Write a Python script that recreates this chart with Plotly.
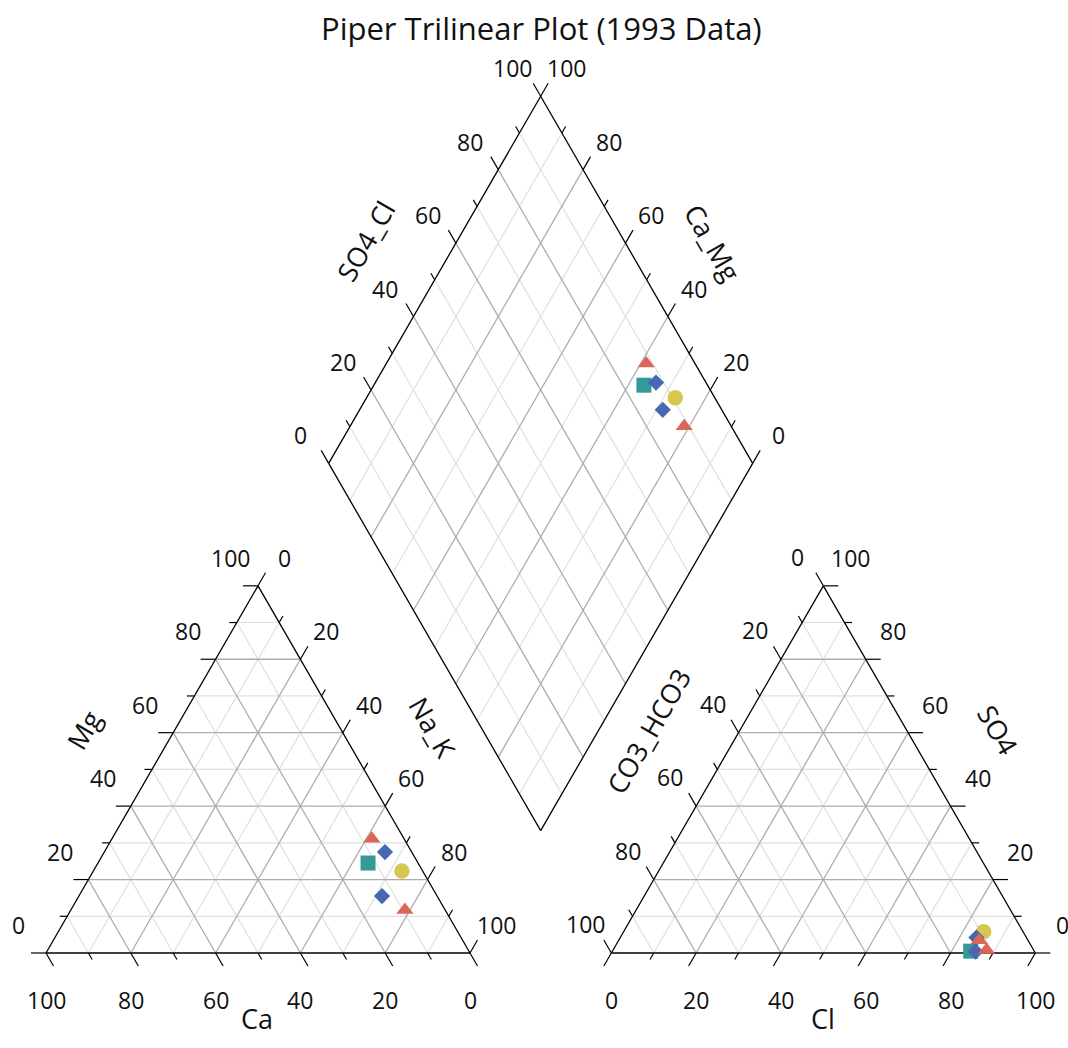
import plotly.graph_objects as go
import numpy as np

# ---------------- data (percent of meq) ----------------
ca  = [7.6, 6.3, 11.8, 4.9, 13.0, 9.5]
mg  = [31.1, 27.5, 24.5, 22.3, 15.5, 11.7]
nak = [61.3, 66.2, 63.7, 72.8, 71.5, 78.8]
co3_hco3 = [11.5, 11.8, 15.0, 9.3, 13.9, 11.1]
so4 = [3.5, 4.2, 0.5, 5.8, 0.4, 0.8]
cl  = [85.0, 84.0, 84.5, 84.9, 85.7, 88.1]
symbols = ['triangle-up', 'diamond', 'square', 'circle', 'diamond', 'triangle-up']
colors  = ['#DB6658', '#4868B2', '#35999A', '#D4C94E', '#4868B2', '#DB6658']
sizes   = {'triangle-up': 15, 'diamond': 12.5, 'square': 15, 'circle': 15.5}
draw_order = ['circle', 'square', 'diamond', 'triangle-up']

tick_vals = list(range(0, 101, 10))
label_vals = [0, 20, 40, 60, 80, 100]

# ---------------- geometry ----------------
H = np.sqrt(3) / 2
GAP = 100 / 3
PX = 4.24            # pixels per unit
X0, Y0 = 46, 953     # pixel position of the cation triangle's left vertex
W, HT = 1068, 1048

cBL, cBR, cAP = np.array([0, 0]), np.array([100, 0]), np.array([50, 100 * H])
aBL = np.array([100 + GAP, 0]); aBR = aBL + [100, 0]; aAP = aBL + [50, 100 * H]
dB = np.array([100 + GAP / 2, GAP / 2 * np.sqrt(3)])
dL = dB + [-50, 100 * H]; dR = dB + [50, 100 * H]; dT = dL + dR - dB


def cat_xy(c, m, n):
    t = c + m + n
    return (c * cBL + m * cAP + n * cBR) / t


def an_xy(c, s, l):
    t = c + s + l
    return (c * aBL + s * aAP + l * aBR) / t


def dia_xy(cm, sc):
    return dB + cm / 100 * (dL - dB) + sc / 100 * (dR - dB)


major_x, major_y, minor_x, minor_y = [], [], [], []
tick_x, tick_y = [], []
outline_x, outline_y = [], []


def seg(lx, ly, p, q):
    lx += [p[0], q[0], None]
    ly += [p[1], q[1], None]


def tri_grid(BL, BR, AP):
    for v in range(10, 100, 10):
        f = v / 100
        lines = [
            (BL + f * (AP - BL), BR + f * (AP - BR)),   # horizontal
            (BL + f * (BR - BL), AP + f * (BR - AP)),   # parallel to left side
            (BR + f * (BL - BR), AP + f * (BL - AP)),   # parallel to right side
        ]
        for p, q in lines:
            if v % 20 == 0:
                seg(major_x, major_y, p, q)
            else:
                seg(minor_x, minor_y, p, q)
    for p, q in [(BL, BR), (BR, AP), (AP, BL)]:
        seg(outline_x, outline_y, p, q)


tri_grid(cBL, cBR, cAP)
tri_grid(aBL, aBR, aAP)

for v in range(10, 100, 10):
    f = v / 100
    lines = [(dB + f * (dL - dB), dR + f * (dL - dB)),
             (dB + f * (dR - dB), dL + f * (dR - dB))]
    for p, q in lines:
        if v % 20 == 0:
            seg(major_x, major_y, p, q)
        else:
            seg(minor_x, minor_y, p, q)
for p, q in [(dB, dL), (dL, dT), (dT, dR), (dR, dB)]:
    seg(outline_x, outline_y, p, q)

# axes: (start point, end point, tick direction, label shift px, values run start->end)
axes = [
    (cBL, cBR, (0.5, -H), (0, -47), 'rev'),     # Ca: 100 at left
    (cBL, cAP, (-1, 0), (-28, 28), 'fwd'),     # Mg: 0 at bottom
    (cAP, cBR, (0.5, H), (26, 28), 'fwd'),      # Na_K: 0 at apex
    (aBL, aBR, (-0.5, -H), (0, -47), 'fwd'),    # Cl
    (aAP, aBL, (-0.5, H), (-26, 29), 'fwd'),    # CO3_HCO3: 0 at apex
    (aBR, aAP, (1, 0), (27, 28), 'fwd'),        # SO4: 0 at bottom-right
    (dL, dT, (-0.5, H), (-28, 28), 'fwd'),      # SO4_Cl
    (dR, dT, (0.5, H), (26, 28), 'fwd'),        # Ca_Mg: 0 at right
]

annotations = []
LBL_FONT = dict(family='Open Sans, sans-serif', size=23, color='#111111')
for P0, P1, d, (sx, sy), mode in axes:
    d = np.array(d, dtype=float)
    for v in tick_vals:
        f = v / 100 if mode == 'fwd' else 1 - v / 100
        p = P0 + f * (P1 - P0)
        L = (15 if v % 20 == 0 else 7.5) / PX
        seg(tick_x, tick_y, p, p + L * d)
        if v in label_vals:
            annotations.append(dict(x=p[0], y=p[1], text=str(v), showarrow=False,
                                    xshift=sx, yshift=sy, font=LBL_FONT,
                                    xanchor='center', yanchor='middle'))


def px2u(px, py):
    return (px - X0) / PX, (Y0 - py) / PX


TITLE_FONT = dict(family='Open Sans, sans-serif', size=27, color='#111111')
axis_titles = [
    ('Ca', 257, 1018, 0), ('Mg', 83, 730, -60), ('Na_K', 433, 727, 60),
    ('Cl', 823, 1018, 0), ('CO3_HCO3', 648, 731, -60), ('SO4', 998, 729, 60),
    ('SO4_Cl', 365, 241, -60), ('Ca_Mg', 713, 242, 60),
]
for t, px, py, ang in axis_titles:
    u, v = px2u(px, py)
    annotations.append(dict(x=u, y=v, text=t, showarrow=False, textangle=ang,
                            font=TITLE_FONT, xanchor='center', yanchor='middle'))

u, v = px2u(541, 28)
annotations.append(dict(x=u, y=v, text='Piper Trilinear Plot (1993 Data)', showarrow=False,
                        font=dict(family='Open Sans, sans-serif', size=31, color='#111111'),
                        xanchor='center', yanchor='middle'))

fig = go.Figure()
fig.add_trace(go.Scatter(x=minor_x, y=minor_y, mode='lines',
                         line=dict(color='#E0E0E0', width=1.2), hoverinfo='skip'))
fig.add_trace(go.Scatter(x=major_x, y=major_y, mode='lines',
                         line=dict(color='#ADADAD', width=1.3), hoverinfo='skip'))
fig.add_trace(go.Scatter(x=outline_x, y=outline_y, mode='lines',
                         line=dict(color='#000000', width=1.3), hoverinfo='skip'))
fig.add_trace(go.Scatter(x=tick_x, y=tick_y, mode='lines',
                         line=dict(color='#000000', width=1.2), hoverinfo='skip'))

for sym in draw_order:
    xs, ys, cs = [], [], []
    for i in range(len(ca)):
        if symbols[i] != sym:
            continue
        for p in (cat_xy(ca[i], mg[i], nak[i]),
                  an_xy(co3_hco3[i], so4[i], cl[i]),
                  dia_xy(ca[i] + mg[i], so4[i] + cl[i])):
            xs.append(p[0]); ys.append(p[1]); cs.append(colors[i])
    fig.add_trace(go.Scatter(x=xs, y=ys, mode='markers',
                             marker=dict(symbol=sym, size=sizes[sym], color=cs,
                                         line=dict(width=0)),
                             hoverinfo='skip'))

xr = [(0 - X0) / PX, (W - X0) / PX]
yr = [(Y0 - HT) / PX, (Y0 - 0) / PX]
fig.update_layout(
    width=W, height=HT, margin=dict(l=0, r=0, t=0, b=0),
    paper_bgcolor='white', plot_bgcolor='white', showlegend=False,
    xaxis=dict(range=xr, visible=False, fixedrange=True),
    yaxis=dict(range=yr, visible=False, fixedrange=True),
    annotations=annotations,
)
fig.write_html('out.html')
